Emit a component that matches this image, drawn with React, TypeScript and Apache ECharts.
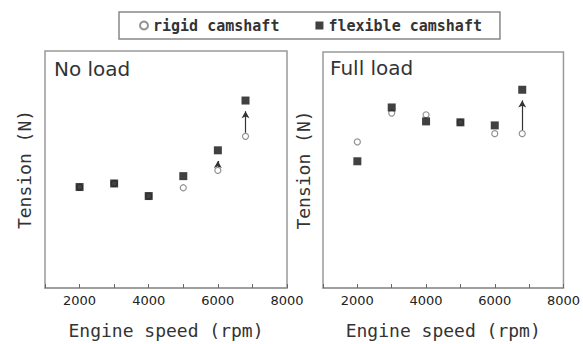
import React, { useEffect, useRef } from "react";
import * as echarts from "echarts";

const speeds = [2000, 3000, 4000, 5000, 6000, 6800];
const noLoadRigid = [42.6, 44.1, 38.8, 42.3, 49.6, 64.0];
const noLoadFlexible = [42.6, 44.1, 38.8, 47.2, 58.1, 79.1];
const fullLoadRigid = [61.9, 74.1, 73.4, 70.2, 65.4, 65.4];
const fullLoadFlexible = [53.7, 76.5, 70.6, 70.2, 68.9, 84.0];
const noLoadArrowIdx = [4, 5];
const fullLoadArrowIdx = [5];
const xTickLabels = ["2000", "4000", "6000", "8000"];
const panelTitles = ["No load", "Full load"];

const FONT = "DejaVu Sans";
const MONO = "DejaVu Sans Mono";

function pairs(xs: number[], ys: number[]) {
  return xs.map((x, i) => [x, ys[i]]);
}

function arrows(idx: number[], rigid: number[], flex: number[]) {
  return idx.map((i) => [
    { coord: [speeds[i], rigid[i] + 1.5] },
    { coord: [speeds[i], flex[i] - 4.5] },
  ]);
}

export default function App() {
  const ref = useRef<HTMLDivElement>(null);
  useEffect(() => {
    if (!ref.current) return;
    const chart = echarts.init(ref.current, null, { renderer: "svg" });
    const grids = [
      { left: 45, top: 51, width: 242, height: 238 },
      { left: 323, top: 52, width: 241, height: 237 },
    ];
    const xAxis = grids.map((_, i) => ({
      type: "value",
      gridIndex: i,
      min: 1000,
      max: 8000,
      interval: 1000,
      name: "Engine speed (rpm)",
      nameLocation: "middle",
      nameGap: 33,
      nameTextStyle: { fontFamily: MONO, fontSize: 18, color: "#333" },
      axisLine: { show: true, onZero: false, lineStyle: { color: "#999", width: 1.5 } },
      axisTick: { show: true, inside: true, length: 4, lineStyle: { color: "#666", width: 1 } },
      splitLine: { show: false },
      axisLabel: {
        fontFamily: FONT,
        fontSize: 13,
        color: "#222",
        margin: 6,
        showMinLabel: true,
        showMaxLabel: true,
        formatter: (v: number) => (xTickLabels.includes(String(v)) ? String(v) : ""),
      },
    }));
    const yAxis = grids.map((_, i) => ({
      type: "value",
      gridIndex: i,
      min: 0,
      max: 100,
      name: "Tension (N)",
      nameLocation: "middle",
      nameGap: i === 0 ? 12 : 11,
      nameTextStyle: { fontFamily: MONO, fontSize: 18, color: "#333" },
      axisLine: { show: false },
      axisTick: { show: false },
      axisLabel: { show: false },
      splitLine: { show: false },
    }));
    const rigidStyle = { color: "#fff", borderColor: "#777", borderWidth: 1.2 };
    const flexStyle = { color: "#111" };
    const markLine = (data: any) => ({
      silent: true,
      symbol: ["none", "arrow"],
      symbolSize: [6, 7],
      lineStyle: { color: "#333", width: 1.2, type: "solid" },
      label: { show: false },
      data,
    });
    chart.setOption({
      animation: false,
      backgroundColor: "#fff",
      title: panelTitles.map((t, i) => ({
        text: t,
        left: i === 0 ? 54 : 330,
        top: i === 0 ? 59 : 58,
        padding: 0,
        textStyle: { fontFamily: FONT, fontSize: 20, fontWeight: "normal", color: "#333" },
      })),
      legend: {
        left: 119,
        top: 12,
        padding: [6, 18, 6, 20],
        borderColor: "#888",
        borderWidth: 1.5,
        itemWidth: 8,
        itemHeight: 8,
        itemGap: 36,
        textStyle: { fontFamily: MONO, fontSize: 15, fontWeight: "bold", color: "#333" },
        data: [
          { name: "rigid camshaft", icon: "circle" },
          { name: "flexible camshaft", icon: "rect" },
        ],
      },
      grid: grids.map((g) => ({ ...g, show: true, borderColor: "#999", borderWidth: 1.5 })),
      xAxis,
      yAxis,
      series: [
        {
          name: "rigid camshaft",
          type: "scatter",
          xAxisIndex: 0,
          yAxisIndex: 0,
          symbol: "circle",
          symbolSize: 6,
          itemStyle: rigidStyle,
          data: pairs(speeds, noLoadRigid),
          markLine: markLine(arrows(noLoadArrowIdx, noLoadRigid, noLoadFlexible)),
        },
        {
          name: "flexible camshaft",
          type: "scatter",
          xAxisIndex: 0,
          yAxisIndex: 0,
          symbol: "rect",
          symbolSize: 8,
          itemStyle: flexStyle,
          data: pairs(speeds, noLoadFlexible),
        },
        {
          name: "rigid camshaft",
          type: "scatter",
          xAxisIndex: 1,
          yAxisIndex: 1,
          symbol: "circle",
          symbolSize: 6,
          itemStyle: rigidStyle,
          data: pairs(speeds, fullLoadRigid),
          markLine: markLine(arrows(fullLoadArrowIdx, fullLoadRigid, fullLoadFlexible)),
        },
        {
          name: "flexible camshaft",
          type: "scatter",
          xAxisIndex: 1,
          yAxisIndex: 1,
          symbol: "rect",
          symbolSize: 8,
          itemStyle: flexStyle,
          data: pairs(speeds, fullLoadFlexible),
        },
      ],
    });
    return () => chart.dispose();
  }, []);
  return (
    <div
      ref={ref}
      style={{ position: "fixed", left: 0, top: 0, width: 583, height: 344, background: "#fff" }}
    />
  );
}
